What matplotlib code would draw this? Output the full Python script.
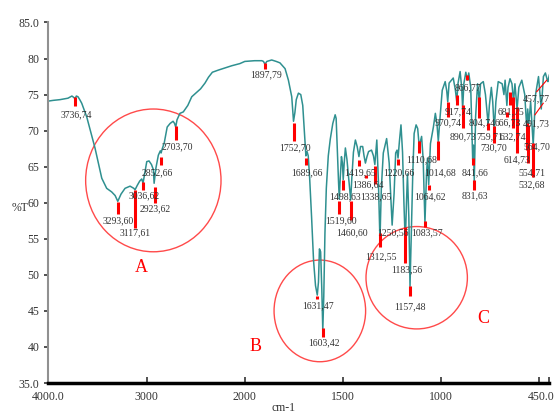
import numpy as np
import matplotlib
matplotlib.use('Agg')
import matplotlib.pyplot as plt
import matplotlib.transforms as mtransforms
from matplotlib.patches import Ellipse

# spectrum (wavenumber cm-1, %T)
wn = [4000, 3950, 3881, 3800, 3760, 3740, 3728, 3715, 3698, 3680, 3660, 3609, 3525, 3456,
      3406, 3355, 3320, 3293, 3260, 3219, 3168, 3130, 3117, 3095, 3070, 3049, 3036, 3020,
      2998, 2975, 2950, 2931, 2923, 2905, 2880, 2860, 2852, 2840, 2820, 2790, 2760, 2730,
      2715, 2703, 2690, 2660, 2626, 2580, 2540, 2450, 2405, 2370, 2330, 2269, 2200, 2133,
      2050, 2000, 1950, 1913, 1905, 1897, 1888, 1863, 1840, 1821, 1795, 1778, 1761, 1752,
      1745, 1738, 1727, 1715, 1705, 1697, 1689, 1683, 1677, 1670, 1660, 1650, 1640, 1631,
      1625, 1620, 1614, 1608, 1603, 1598, 1592, 1585, 1575, 1565, 1552, 1540, 1535, 1530,
      1523, 1519, 1514, 1508, 1503, 1499, 1494, 1488, 1480, 1470, 1461, 1455, 1447, 1437,
      1428, 1419, 1411, 1400, 1393, 1386, 1378, 1370, 1355, 1345, 1338, 1328, 1320, 1312,
      1305, 1295, 1278, 1265, 1250, 1240, 1232, 1225, 1220, 1213, 1205, 1197, 1190, 1183,
      1177, 1172, 1165, 1159, 1152, 1145, 1138, 1128, 1120, 1112, 1100, 1092, 1083, 1075,
      1070, 1064, 1055, 1040, 1030, 1022, 1015, 1008, 995, 980, 972, 967, 960, 939,
      928, 921, 915, 904, 896, 891, 885, 875, 867, 860, 850, 840, 836, 832,
      825, 815, 806, 800, 786, 775, 765, 761, 755, 745, 738, 730, 722, 710,
      690, 681, 675, 666, 660, 650, 640, 632, 625, 614, 605, 590, 575, 564,
      560, 554, 545, 532, 520, 505, 491, 480, 470, 460, 457, 452, 450]
tr = [74.1, 74.2, 74.3, 74.5, 74.8, 74.6, 74.4, 74.8, 74.7, 74.3, 73.8, 71.9, 67.6, 63.4,
      62.0, 61.5, 61.0, 60.2, 61.2, 62.0, 62.3, 62.0, 61.8, 62.4, 63.0, 63.3, 62.7, 64.0,
      65.7, 65.8, 65.3, 64.6, 62.7, 64.8, 66.6, 67.2, 66.9, 67.5, 68.3, 70.5, 71.0, 71.3,
      71.0, 70.5, 71.5, 72.4, 72.6, 73.5, 74.7, 75.8, 76.6, 77.4, 78.1, 78.4, 78.7, 79.0,
      79.3, 79.6, 79.7, 79.7, 79.6, 79.2, 79.6, 79.8, 79.6, 79.4, 78.6, 77.0, 74.7, 71.3,
      72.5, 74.3, 75.2, 75.0, 73.5, 70.0, 66.5, 67.1, 66.5, 63.5, 58.0, 52.0, 48.5, 47.2,
      49.0, 53.6, 53.2, 48.0, 42.3, 47.0, 55.8, 62.0, 66.5, 68.8, 71.0, 72.2, 71.7, 68.0,
      63.0, 60.5, 63.5, 66.4, 65.5, 63.2, 65.5, 67.6, 66.0, 63.0, 60.4, 63.5, 67.0, 68.7,
      67.8, 66.4, 67.8, 67.8, 66.5, 65.5, 66.4, 67.1, 67.3, 66.5, 65.3, 68.7, 63.0, 54.8,
      62.0, 66.9, 68.9, 65.5, 56.9, 61.3, 66.9, 67.3, 66.2, 68.5, 70.8, 67.0, 60.0, 54.3,
      60.0, 64.0, 58.0, 48.4, 56.0, 64.0, 69.6, 70.8, 70.3, 67.8, 69.2, 66.0, 57.2, 64.0,
      66.2, 62.5, 68.2, 70.5, 72.4, 71.0, 68.5, 71.2, 75.6, 76.8, 75.5, 74.0, 76.6, 77.3,
      75.6, 74.0, 76.5, 78.2, 76.0, 73.0, 76.5, 78.1, 77.0, 78.0, 76.0, 66.0, 68.0, 63.0,
      72.0, 76.5, 74.0, 76.5, 76.8, 75.0, 72.0, 71.0, 73.5, 76.0, 74.0, 70.0, 74.0, 76.8,
      76.5, 75.0, 77.0, 73.5, 76.0, 77.2, 76.5, 74.0, 76.5, 73.0, 76.0, 77.0, 75.0, 70.0,
      73.0, 71.0, 74.0, 68.0, 75.0, 77.5, 73.0, 77.5, 78.0, 77.0, 76.8, 77.5, 77.7]

# peak labels
peak_labels = ['3736,74', '3293,60', '3117,61', '3036,62', '2923,62', '2852,66', '2703,70',
               '1897,79', '1752,70', '1689,66', '1631,47', '1603,42', '1519,60', '1498,63',
               '1460,60', '1419,65', '1386,64', '1338,65', '1312,55', '1250,56', '1220,66',
               '1183,56', '1157,48', '1110,68', '1083,57', '1064,62', '1014,68', '970,74',
               '917,74', '890,73', '866,77', '841,66', '831,63', '804,74', '759,71',
               '730,70', '681,75', '666,73', '632,74', '614,73', '564,70', '554,71',
               '532,68', '491,73', '457,77']
label_x = [3718, 3287, 3117, 3026, 2914, 2890, 2687, 1894, 1744, 1682, 1626, 1597, 1512, 1490,
           1456, 1414, 1374, 1332, 1308, 1244, 1214, 1176, 1159, 1100, 1074, 1057, 1006, 964,
           913, 888, 862, 828, 828, 794, 755, 735, 647, 659, 633, 616, 514, 540, 540, 518, 514]
label_y = [72.2, 57.5, 55.9, 60.9, 59.1, 64.2, 67.7, 77.7, 67.6, 64.2, 45.7, 40.6, 57.5, 60.8,
           55.8, 64.2, 62.5, 60.8, 52.5, 55.8, 64.2, 50.7, 45.6, 65.9, 55.8, 60.8, 64.2, 71.1,
           72.6, 69.2, 76.0, 64.2, 60.9, 71.1, 69.2, 67.6, 72.6, 71.1, 69.2, 66.0, 67.7, 64.2,
           62.5, 70.9, 74.4]

# red tick marks under peaks
mark_x = [3728, 3287, 3117, 3033, 2914, 2853, 2700, 1897, 1750, 1688, 1631, 1600, 1519, 1499,
          1461, 1419, 1385, 1337, 1312, 1222, 1185, 1159, 1112, 1083, 1062, 1015, 967,
          921, 891, 867, 840, 832, 806, 761, 730, 667, 650, 633, 616, 565, 557, 535]
mark_top = [74.7, 60.1, 61.8, 62.9, 62.2, 66.4, 70.7, 79.4, 71.0, 66.2, 47.1, 42.6, 60.2, 63.2,
            60.2, 65.9, 63.9, 65.1, 55.8, 66.1, 56.7, 48.4, 68.5, 57.4, 62.5, 68.5, 74.0,
            74.9, 73.6, 77.7, 66.2, 63.2, 74.7, 71.0, 70.6, 72.6, 75.4, 74.7, 73.3, 71.0, 70.8, 68.3]
mark_bot = [73.4, 58.4, 56.5, 61.8, 59.9, 65.2, 68.7, 78.6, 68.5, 65.2, 46.6, 41.4, 58.4, 61.8,
            57.6, 65.1, 63.4, 62.6, 53.9, 65.2, 51.6, 47.0, 66.9, 56.7, 61.8, 65.9, 71.9,
            73.6, 70.3, 77.0, 65.2, 61.8, 71.7, 70.1, 68.3, 71.9, 73.6, 70.3, 66.9, 67.3, 65.5, 63.6]

# leader lines for the last two labels
lead_x = [(523, 481), (514, 463)]
lead_y = [(72.2, 73.8), (75.4, 77.0)]

# circled regions: centre x, centre y, width, height
circ_names = ['A', 'B', 'C']
circ_cx = [2931, 1618, 1125]
circ_cy = [63.1, 45.0, 49.6]
circ_w = [1378, 466, 516]
circ_h = [19.8, 14.1, 14.2]
letter_x = [3056, 1943, 788]
letter_y = [51.0, 40.1, 44.0]


def fwd(x):
    x = np.asarray(x, dtype=float)
    return np.where(x >= 2000, x, 2 * x - 2000)


def inv(y):
    y = np.asarray(y, dtype=float)
    return np.where(y >= 2000, y, (y + 2000) / 2)


plt.rcParams['font.family'] = ['Liberation Serif', 'DejaVu Serif']

fig = plt.figure(figsize=(5.6, 4.15), dpi=100)
ax = fig.add_axes([0.0863, 0.0771, 0.8946, 0.8687])
ax.set_xscale('function', functions=(fwd, inv))
ax.set_xlim(4000, 450)
ax.set_ylim(35, 85)

ax.plot(wn, tr, color='#2f9090', lw=1.1)

for i in range(len(mark_x)):
    ax.plot([mark_x[i], mark_x[i]], [mark_top[i], mark_bot[i]], color='red', lw=2.2,
            solid_capstyle='butt')
for i in range(len(peak_labels)):
    ax.text(label_x[i], label_y[i], peak_labels[i], ha='center', va='center',
            fontsize=7, color='#333333')
for i in range(len(lead_x)):
    ax.plot(lead_x[i], lead_y[i], color='red', lw=0.8)

for i in range(len(circ_names)):
    ax.add_patch(Ellipse((circ_cx[i], circ_cy[i]), circ_w[i], circ_h[i], fill=False,
                         edgecolor='#ff4a4a', lw=1.0))
    ax.text(letter_x[i], letter_y[i], circ_names[i], ha='center', va='center',
            fontsize=13, color='red')

ax.set_xticks([4000, 3000, 2000, 1500, 1000, 500, 450])
ax.set_xticklabels(['4000.0', '3000', '2000', '1500', '1000', '', '450.0'])
ax.set_yticks([85, 80, 75, 70, 65, 60, 55, 50, 45, 40, 35])
ax.set_yticklabels(['85.0', '80', '75', '70', '65', '60', '55', '50', '45', '40', '35.0'])
ax.tick_params(axis='x', direction='in', length=4, width=1.2, labelsize=8.5,
               colors='#333333', pad=6)
ax.tick_params(axis='y', direction='out', length=3, width=1.2, labelsize=8.5,
               colors='#333333')
last = ax.get_xticklabels()[-1]
last.set_transform(last.get_transform() +
                   mtransforms.ScaledTranslation(-8 / 100, 0, fig.dpi_scale_trans))
ax.spines['top'].set_visible(False)
ax.spines['right'].set_visible(False)
ax.spines['left'].set_color('#909090')
ax.spines['left'].set_linewidth(1.5)
ax.spines['bottom'].set_color('black')
ax.spines['bottom'].set_linewidth(2.5)

fig.text(20 / 560, 1 - 208 / 415, '%T', ha='center', va='center', fontsize=8.5, color='#333333')
fig.text(283 / 560, 1 - 408 / 415, 'cm-1', ha='center', va='center', fontsize=8.5, color='#333333')

fig.savefig('out.png', dpi=100)
